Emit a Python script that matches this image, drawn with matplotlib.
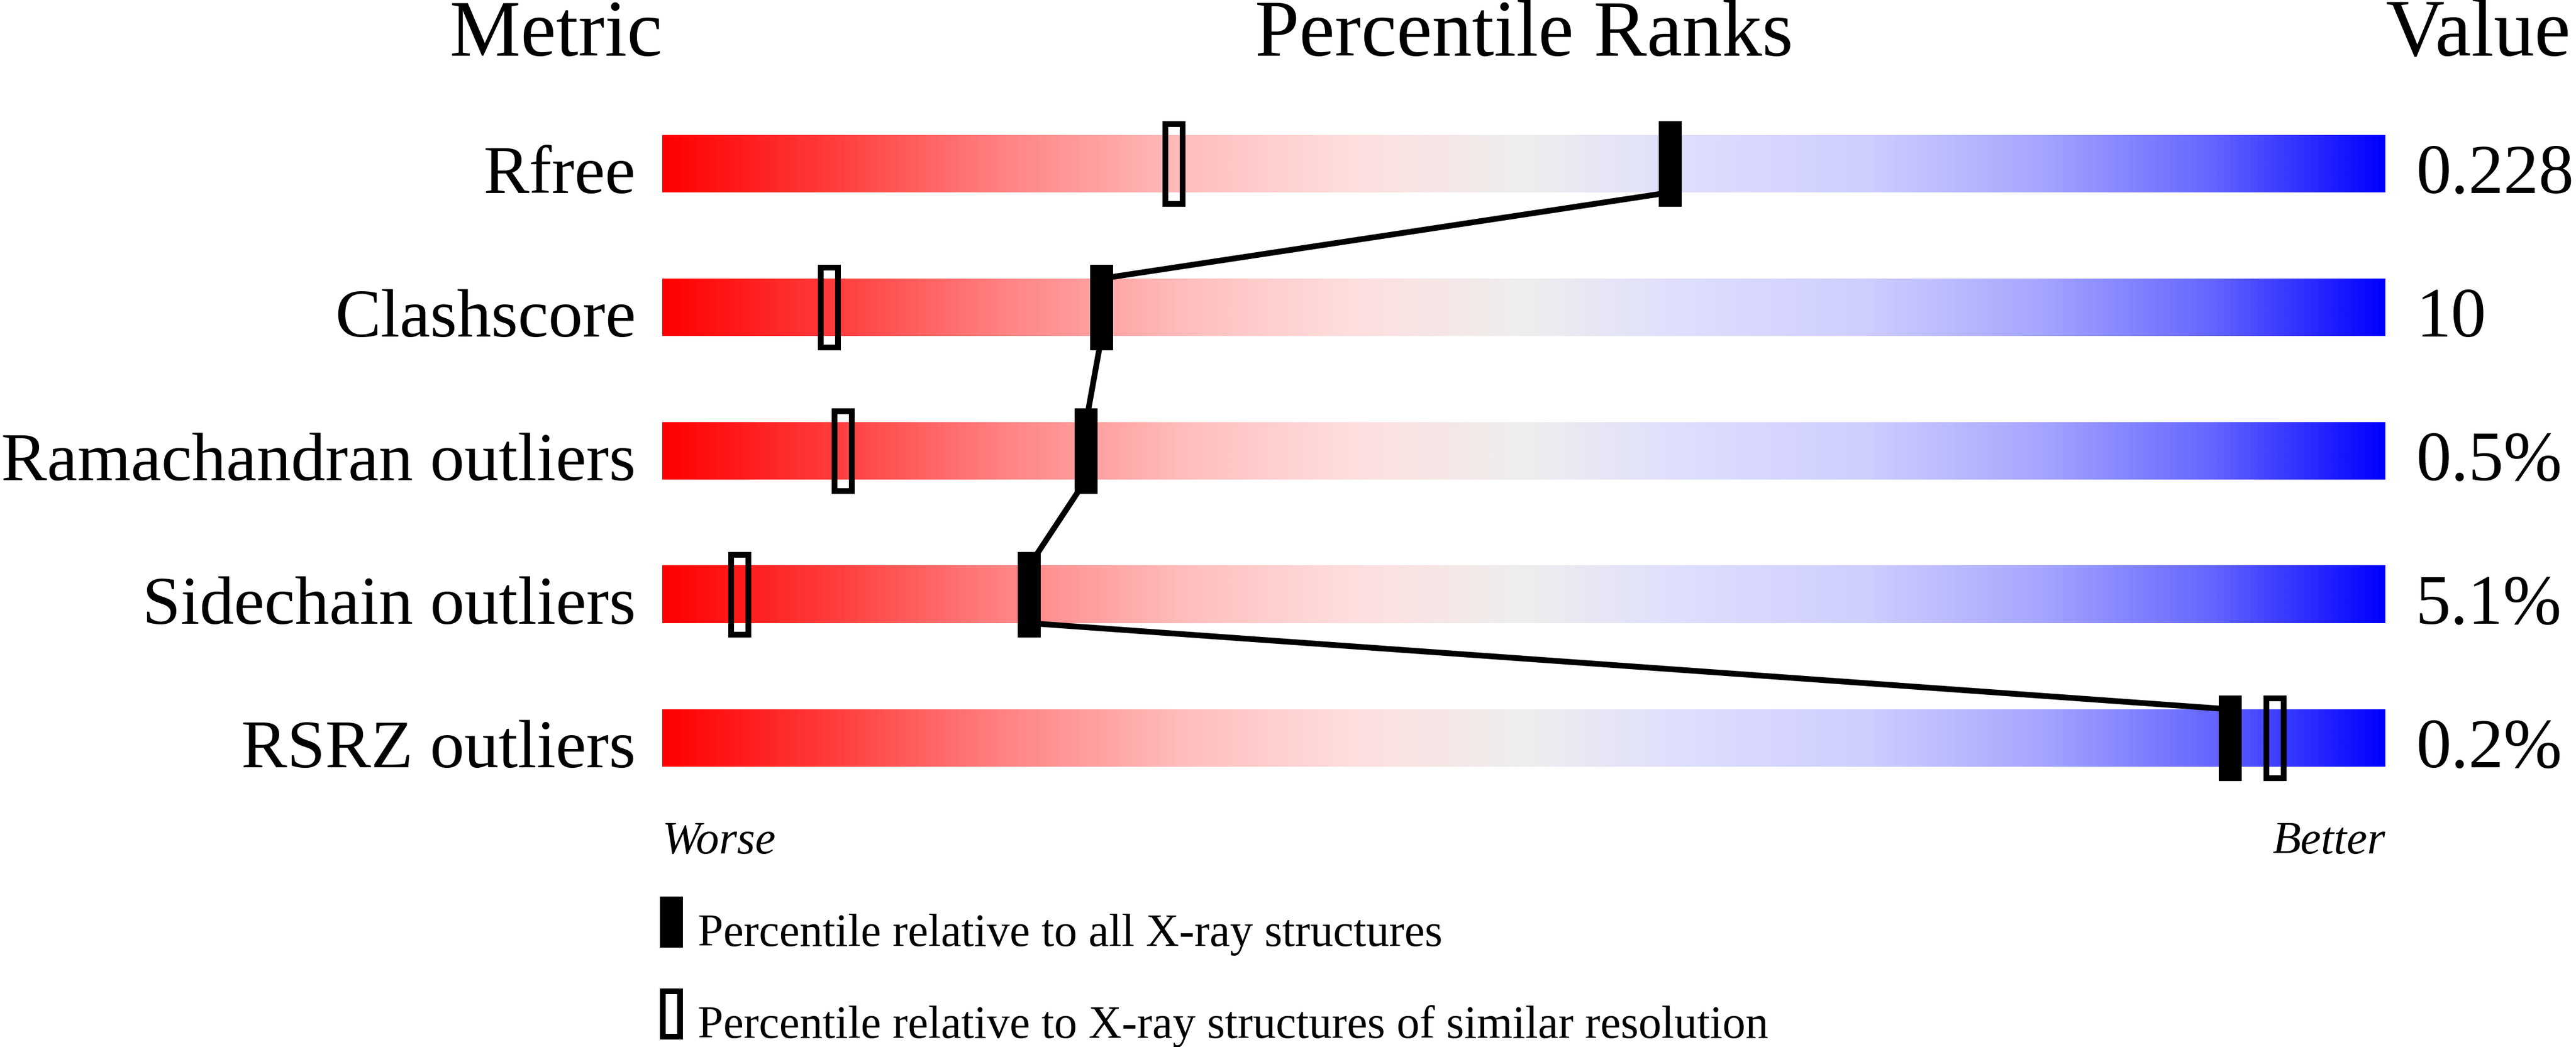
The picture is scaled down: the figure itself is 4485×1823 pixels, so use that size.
import numpy as np
import matplotlib
matplotlib.use("Agg")
import matplotlib.pyplot as plt
from matplotlib.colors import LinearSegmentedColormap
from matplotlib.patches import Rectangle

metrics = ["Rfree", "Clashscore", "Ramachandran outliers", "Sidechain outliers", "RSRZ outliers"]
values = ["0.228", "10", "0.5%", "5.1%", "0.2%"]
# percentile ranks (0 = worse, 100 = better)
pct_all = [58.5, 25.5, 24.6, 21.3, 91.0]
pct_similar = [29.7, 9.7, 10.5, 4.5, 93.6]

legend_labels = [
    "Percentile relative to all X-ray structures",
    "Percentile relative to X-ray structures of similar resolution",
]

plt.rcParams["font.family"] = ["Liberation Serif", "DejaVu Serif"]

# slider gradient: red -> pale pink -> grey -> lavender -> blue
stops = [
    (0.0, (255, 0, 0)),
    (0.1, (255, 62, 62)),
    (0.2, (255, 132, 132)),
    (0.3, (255, 188, 188)),
    (0.4, (255, 222, 222)),
    (0.5, (238, 238, 238)),
    (0.6, (221, 221, 255)),
    (0.7, (206, 206, 255)),
    (0.8, (166, 166, 255)),
    (0.9, (102, 102, 255)),
    (1.0, (0, 0, 255)),
]
cmap = LinearSegmentedColormap.from_list(
    "slider", [(p, tuple(c / 255 for c in rgb)) for p, rgb in stops]
)

W, H = 4485, 1824
DPI = 100
fig = plt.figure(figsize=(W / DPI, H / DPI), dpi=DPI)
ax = fig.add_axes([0, 0, 1, 1])
ax.set_axis_off()

# layout in pixels -> data units (x: percentile, y: row index)
px_per_pct = 30.0
x0_px = 1153
row0_px = 286
row_px = 250
ax.set_xlim(-x0_px / px_per_pct, (W - x0_px) / px_per_pct)
ax.set_ylim((H - row0_px) / row_px, -row0_px / row_px)

bar_h = 100 / row_px
mark_h = 149 / row_px
mark_w = 40 / px_per_pct
edge_px = 10
edge_pt = edge_px * 72 / DPI

grad = np.linspace(0, 1, 1024).reshape(1, -1)
n = len(metrics)
for i in range(n):
    ax.imshow(grad, cmap=cmap, aspect="auto", interpolation="bilinear",
              extent=(0, 100, i + bar_h / 2, i - bar_h / 2), zorder=1)

# connecting line: bottom of one bar to top of the next
for i in range(n - 1):
    ax.plot([pct_all[i], pct_all[i + 1]],
            [i + bar_h / 2, i + 1 - bar_h / 2],
            color="black", lw=10 * 72 / DPI, solid_capstyle="butt", zorder=2)

for i in range(n):
    ax.add_patch(Rectangle((pct_all[i] - mark_w / 2, i - mark_h / 2), mark_w, mark_h,
                           facecolor="black", edgecolor="none", zorder=3))
    iw = mark_w - edge_px / px_per_pct
    ih = mark_h - edge_px / row_px
    ax.add_patch(Rectangle((pct_similar[i] - iw / 2, i - ih / 2), iw, ih,
                           fill=False, edgecolor="black", lw=edge_pt,
                           joinstyle="miter", zorder=3))

    ax.text(-46 / px_per_pct, i + bar_h / 2, metrics[i], ha="right", va="baseline",
            fontsize=86)
    ax.text(100 + 53 / px_per_pct, i + bar_h / 2, values[i], ha="left", va="baseline",
            fontsize=88)

title_y = (97 - row0_px) / row_px
ax.text(0, title_y, "Metric", ha="right", va="baseline", fontsize=100)
ax.text(50, title_y, "Percentile Ranks", ha="center", va="baseline", fontsize=100)
ax.text(100, title_y, "Value", ha="left", va="baseline", fontsize=102)

wb_y = (1486 - row0_px) / row_px
ax.text(0, wb_y, "Worse", ha="left", va="baseline", fontsize=58, style="italic")
ax.text(100, wb_y, "Better", ha="right", va="baseline", fontsize=58, style="italic")

# legend
leg_h = 89 / row_px
leg_tops = [(1562 - row0_px) / row_px, (1722 - row0_px) / row_px]
leg_x = (1149 - x0_px) / px_per_pct
ax.add_patch(Rectangle((leg_x, leg_tops[0]), mark_w, leg_h,
                       facecolor="black", edgecolor="none"))
ax.add_patch(Rectangle((leg_x + edge_px / 2 / px_per_pct, leg_tops[1] + edge_px / 2 / row_px),
                       mark_w - edge_px / px_per_pct, leg_h - edge_px / row_px,
                       fill=False, edgecolor="black", lw=edge_pt, joinstyle="miter"))
for top, label in zip(leg_tops, legend_labels):
    ax.text((1215 - x0_px) / px_per_pct, top + leg_h - 4 / row_px, label,
            ha="left", va="baseline", fontsize=57.5)

fig.savefig("out.png", dpi=DPI, facecolor="white")
